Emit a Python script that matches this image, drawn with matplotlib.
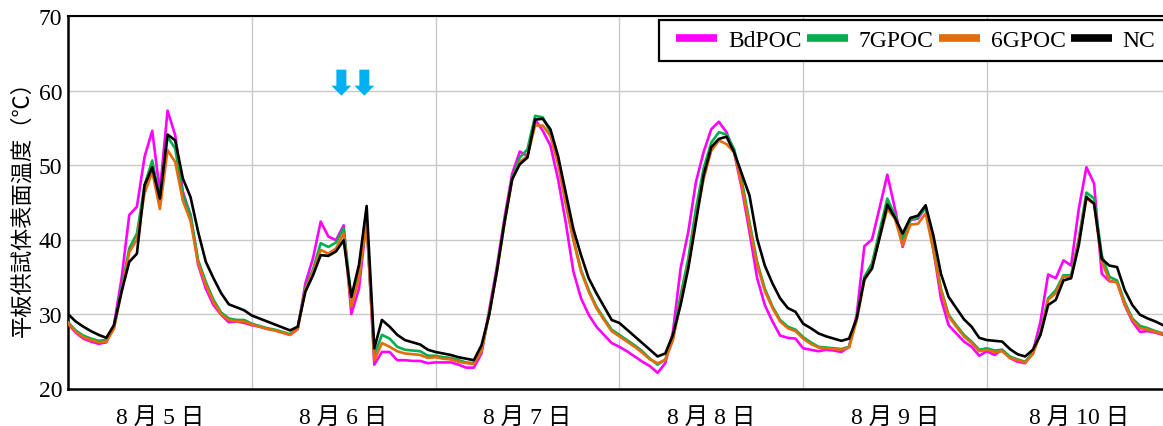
"""Surface temperature of slab specimens, 5-10 Aug."""

import matplotlib

matplotlib.use("Agg")

import matplotlib.pyplot as plt
import numpy as np
from matplotlib.patches import Rectangle

plt.rcParams["font.family"] = ["Liberation Serif", "Noto Sans CJK JP"]

# hourly values, 6 days x 24 h
bdpoc = [
    28.7, 27.5, 26.7, 26.3, 26.0, 26.2, 28.5, 34.8, 43.3, 44.4, 51.1, 54.6, 46.4, 57.3, 54.0, 46.4, 43.3, 36.6, 33.4, 31.2, 29.9, 28.9, 29.0, 28.8,
    28.5, 28.3, 28.0, 27.8, 27.5, 27.2, 28.0, 34.1, 37.5, 42.4, 40.4, 39.9, 41.9, 30.0, 33.4, 42.8, 23.2, 24.9, 24.9, 23.8, 23.8, 23.7, 23.7, 23.4,
    23.5, 23.5, 23.5, 23.2, 22.8, 22.8, 24.7, 30.5, 36.3, 42.9, 48.8, 51.8, 51.2, 56.1, 54.6, 52.6, 48.1, 42.3, 35.7, 32.1, 29.9, 28.3, 27.2, 26.1,
    25.6, 25.0, 24.3, 23.6, 23.0, 22.1, 23.4, 27.6, 36.1, 41.0, 47.7, 51.7, 54.8, 55.8, 54.4, 51.7, 46.8, 41.0, 34.8, 31.2, 29.0, 27.1, 26.8, 26.7,
    25.4, 25.2, 25.0, 25.2, 25.1, 24.9, 25.6, 29.9, 39.1, 40.0, 44.3, 48.7, 44.1, 39.0, 42.6, 42.8, 44.3, 38.8, 32.1, 28.5, 27.4, 26.3, 25.6, 24.4,
    25.0, 24.5, 25.2, 24.1, 23.6, 23.4, 24.9, 29.0, 35.3, 34.8, 37.2, 36.5, 44.1, 49.7, 47.5, 35.4, 34.4, 34.3, 31.2, 29.0, 27.6, 27.7, 27.5, 27.2,
]
gpoc7 = [
    28.9, 27.8, 27.1, 26.7, 26.4, 26.5, 28.2, 33.5, 38.8, 40.8, 47.3, 50.6, 45.3, 53.8, 52.2, 46.0, 43.3, 37.2, 34.3, 31.9, 30.2, 29.4, 29.2, 29.2,
    28.7, 28.4, 28.1, 27.9, 27.6, 27.3, 28.1, 33.5, 36.0, 39.5, 39.0, 39.6, 41.5, 32.1, 35.7, 42.4, 24.5, 27.2, 26.7, 25.6, 25.2, 25.1, 25.0, 24.4,
    24.4, 24.2, 24.1, 23.8, 23.5, 23.4, 25.0, 30.0, 35.8, 42.3, 48.2, 51.0, 52.1, 56.6, 56.4, 54.4, 50.6, 45.0, 40.1, 35.9, 33.2, 31.0, 29.4, 27.9,
    27.2, 26.5, 25.8, 25.0, 24.0, 23.2, 23.9, 26.7, 32.5, 37.4, 44.1, 49.5, 53.0, 54.4, 54.1, 52.1, 47.9, 42.3, 37.0, 33.4, 31.0, 29.2, 28.3, 27.9,
    26.9, 26.2, 25.6, 25.5, 25.4, 25.3, 25.6, 29.4, 35.0, 36.8, 41.2, 45.5, 43.2, 40.1, 42.6, 43.0, 44.3, 38.8, 33.4, 29.9, 28.5, 27.2, 26.3, 25.2,
    25.4, 25.1, 25.2, 24.3, 23.9, 23.6, 24.7, 27.6, 32.1, 33.2, 35.2, 35.2, 40.1, 46.3, 45.5, 37.9, 35.0, 34.5, 31.6, 29.4, 28.4, 28.1, 27.7, 27.4,
]
gpoc6 = [
    28.8, 27.6, 26.9, 26.5, 26.2, 26.3, 28.0, 33.0, 38.3, 40.0, 46.2, 49.1, 44.1, 52.0, 50.4, 45.2, 42.5, 36.8, 33.9, 31.6, 30.0, 29.2, 29.0, 29.0,
    28.6, 28.3, 28.0, 27.8, 27.5, 27.2, 28.0, 33.3, 35.7, 38.6, 38.1, 38.8, 40.8, 31.0, 34.8, 42.4, 23.8, 26.1, 25.6, 25.0, 24.7, 24.6, 24.5, 24.1,
    24.2, 24.0, 23.9, 23.6, 23.4, 23.3, 25.0, 30.0, 35.6, 42.2, 48.0, 50.4, 51.2, 55.3, 55.3, 53.9, 50.1, 44.8, 39.9, 35.7, 33.0, 30.8, 29.2, 27.7,
    27.0, 26.3, 25.6, 24.8, 23.9, 23.4, 23.8, 26.5, 31.6, 36.5, 42.8, 48.1, 51.9, 53.3, 52.8, 51.7, 47.2, 41.8, 36.6, 33.1, 30.8, 29.0, 28.1, 27.7,
    26.7, 26.0, 25.5, 25.4, 25.3, 25.2, 25.5, 29.2, 34.5, 36.3, 40.3, 44.1, 42.8, 39.2, 42.0, 42.1, 43.5, 38.6, 33.2, 29.7, 28.3, 27.0, 26.1, 25.0,
    25.2, 24.9, 25.0, 24.1, 23.8, 23.5, 24.6, 27.4, 31.9, 32.8, 35.0, 35.0, 39.9, 45.5, 44.8, 37.0, 34.5, 34.2, 31.3, 29.2, 28.1, 27.9, 27.6, 27.3,
]
nc = [
    30.0, 29.0, 28.3, 27.7, 27.2, 26.8, 28.5, 33.0, 37.0, 38.1, 47.3, 49.7, 45.5, 54.1, 53.3, 48.2, 45.7, 41.0, 37.0, 34.8, 32.8, 31.3, 30.9, 30.5,
    29.8, 29.4, 29.0, 28.6, 28.2, 27.8, 28.3, 33.0, 35.2, 37.9, 37.8, 38.4, 39.9, 32.3, 36.6, 44.5, 25.4, 29.2, 28.3, 27.2, 26.5, 26.2, 25.9, 25.2,
    24.9, 24.7, 24.5, 24.2, 24.0, 23.8, 25.8, 29.9, 35.7, 42.3, 48.1, 50.1, 51.0, 56.1, 56.2, 54.8, 51.2, 46.3, 41.4, 37.9, 34.8, 32.8, 31.0, 29.2,
    28.8, 27.9, 27.0, 26.1, 25.2, 24.3, 24.7, 27.2, 31.2, 36.1, 42.3, 48.6, 52.4, 53.5, 53.8, 51.7, 48.8, 45.9, 40.1, 36.5, 34.1, 32.1, 30.8, 30.3,
    28.7, 28.1, 27.4, 27.0, 26.7, 26.4, 26.7, 29.4, 34.7, 36.1, 40.3, 44.7, 42.9, 40.8, 42.9, 43.2, 44.6, 40.6, 35.4, 32.3, 30.8, 29.3, 28.3, 26.8,
    26.5, 26.4, 26.3, 25.3, 24.6, 24.3, 25.2, 27.2, 31.2, 31.9, 34.5, 34.8, 39.2, 45.7, 44.8, 37.4, 36.5, 36.3, 33.2, 31.2, 29.9, 29.4, 29.0, 28.5,
]
day_labels = ["8 月 5 日", "8 月 6 日", "8 月 7 日", "8 月 8 日", "8 月 9 日", "8 月 10 日"]
arrow_hours = [35.7, 38.7]

series = [
    ("BdPOC", bdpoc, "#FF00FF"),
    ("7GPOC", gpoc7, "#00B050"),
    ("6GPOC", gpoc6, "#E46C0A"),
    ("NC", nc, "black"),
]

W, H = 1163, 427
fig = plt.figure(figsize=(W / 100, H / 100), dpi=100)
ax = fig.add_axes([68 / W, 1 - 389.5 / H, 1 - 68 / W, 372.5 / H])

hours = np.arange(len(nc))
for label, values, color in series:
    ax.plot(hours, values, color=color, linewidth=1.9, label=label, zorder=3)

for hour in arrow_hours:
    ax.arrow(hour, 62.8, 0, -3.5, width=1.3, head_width=2.6, head_length=1.35,
             length_includes_head=True, color="#00B0F0", linewidth=0, zorder=4)

ax.set_xlim(0, len(nc) - 1)
ax.set_ylim(20, 70)
ax.set_yticks([20, 30, 40, 50, 60, 70])
ax.set_xticks(np.arange(12, 24 * len(day_labels), 24))
ax.set_xticklabels(day_labels)
ax.set_xticks(np.arange(24, len(nc), 24), minor=True)
ax.tick_params(axis="both", which="both", length=0, labelsize=17)
ax.tick_params(axis="x", pad=13)
ax.tick_params(axis="y", pad=4)
ax.grid(axis="y", color="#C8C8C8", linewidth=1.0)
ax.grid(axis="x", which="minor", color="#C8C8C8", linewidth=1.0)
ax.set_axisbelow(True)

ax.spines["right"].set_visible(False)
for side in ("left", "bottom"):
    ax.spines[side].set_linewidth(1.8)
ax.spines["top"].set_linewidth(1.5)

ax.set_ylabel("平板供試体表面温度（℃）", fontsize=16, labelpad=4)

# legend box runs off the right edge like in the source figure
frame = Rectangle((659 / W, 1 - 61.5 / H), 520 / W, 40.5 / H, transform=fig.transFigure,
                  facecolor="white", edgecolor="black", linewidth=1.6, zorder=5, clip_on=False)
ax.add_patch(frame)
legend = ax.legend(
    loc="center left",
    bbox_to_anchor=(676 / W, 1 - 41.5 / H),
    bbox_transform=fig.transFigure,
    ncol=4,
    fontsize=17,
    frameon=False,
    handlelength=1.75,
    handletextpad=0.45,
    columnspacing=0.22,
    borderaxespad=0,
    borderpad=0,
)
legend.set_zorder(6)
for handle in legend.get_lines():
    handle.set_linewidth(5.5)
    handle.set_solid_capstyle("butt")

fig.savefig("out.png", dpi=100)
plt.close(fig)
